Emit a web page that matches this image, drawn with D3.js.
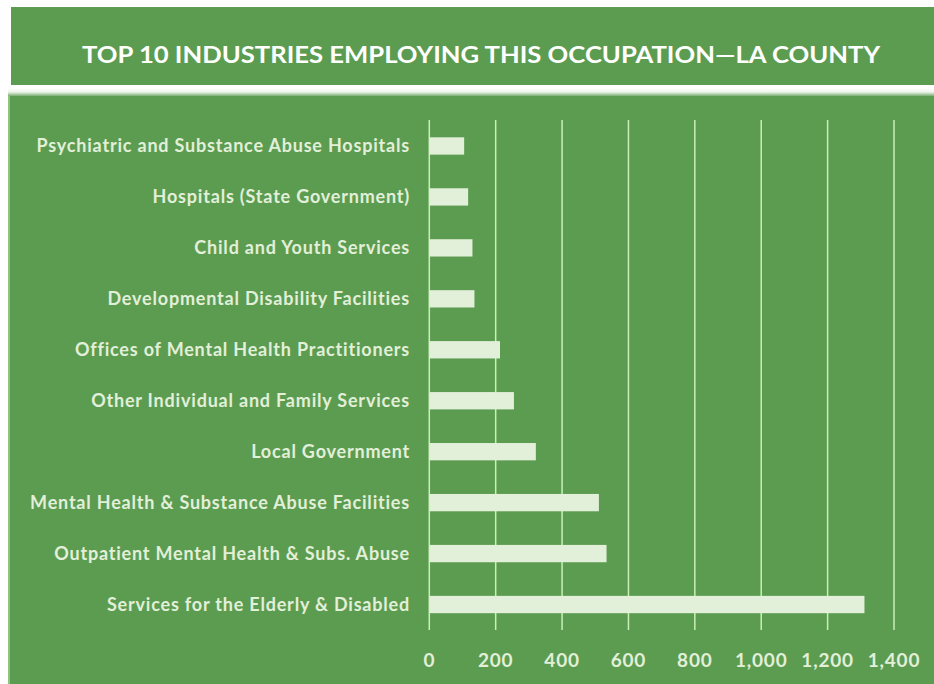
<!DOCTYPE html>
<html>
<head>
<meta charset="utf-8">
<script src="https://cdn.jsdelivr.net/npm/d3@7"></script>
<style>
  body { margin: 0; background: #ffffff; }
  svg { display: block; }
</style>
</head>
<body>
<div id="chart"></div>
<script>
const industries = [
  'Psychiatric and Substance Abuse Hospitals',
  'Hospitals (State Government)',
  'Child and Youth Services',
  'Developmental Disability Facilities',
  'Offices of Mental Health Practitioners',
  'Other Individual and Family Services',
  'Local Government',
  'Mental Health & Substance Abuse Facilities',
  'Outpatient Mental Health & Subs. Abuse',
  'Services for the Elderly & Disabled'
];
const employment = [105, 117, 130, 136, 213, 255, 321, 511, 534, 1311];
const xTicks = [0, 200, 400, 600, 800, 1000, 1200, 1400];
const title = 'TOP 10 INDUSTRIES EMPLOYING THIS OCCUPATION\u2014LA COUNTY';

const width = 934, height = 684;
const green = '#5c9c51';
const light = '#e2efd9';

const svg = d3.select('#chart').append('svg')
  .attr('width', width)
  .attr('height', height);

const defs = svg.append('defs');
const grad = defs.append('linearGradient')
  .attr('id', 'strip')
  .attr('x1', 0).attr('y1', 0).attr('x2', 0).attr('y2', 1);
grad.append('stop').attr('offset', '0%').attr('stop-color', '#ffffff');
grad.append('stop').attr('offset', '45%').attr('stop-color', '#eef5ea');
grad.append('stop').attr('offset', '100%').attr('stop-color', green);

// title banner
svg.append('rect')
  .attr('x', 11).attr('y', 7)
  .attr('width', width - 11).attr('height', 78)
  .attr('fill', green);

svg.append('text')
  .attr('x', 481).attr('y', 63)
  .attr('text-anchor', 'middle')
  .attr('fill', '#ffffff')
  .attr('font-family', 'Lato, "Open Sans", sans-serif')
  .attr('font-weight', 'bold')
  .attr('font-size', 23)
  .attr('textLength', 798)
  .attr('lengthAdjust', 'spacingAndGlyphs')
  .text(title);

// chart panel
svg.append('rect')
  .attr('x', 8).attr('y', 88)
  .attr('width', width - 8).attr('height', 9)
  .attr('fill', 'url(#strip)');

svg.append('rect')
  .attr('x', 8).attr('y', 96)
  .attr('width', width - 8).attr('height', height - 96)
  .attr('fill', green);

svg.append('line')
  .attr('x1', 9).attr('x2', 9)
  .attr('y1', 96).attr('y2', height)
  .attr('stroke', '#8cc47e')
  .attr('stroke-width', 2);

const x = d3.scaleLinear()
  .domain([0, 1400])
  .range([429.3, 894]);

const y = d3.scaleBand()
  .domain(industries)
  .range([120.5, 630])
  .paddingInner(0.66)
  .paddingOuter(0.33);

const g = svg.append('g');

// gridlines
g.selectAll('.grid')
  .data(xTicks)
  .enter()
  .append('line')
  .attr('class', 'grid')
  .attr('x1', d => x(d)).attr('x2', d => x(d))
  .attr('y1', 120).attr('y2', 630)
  .attr('stroke', '#c9efb6')
  .attr('stroke-width', 1.5);

// bars
g.selectAll('.bar')
  .data(industries)
  .enter()
  .append('rect')
  .attr('class', 'bar')
  .attr('x', x(0))
  .attr('y', d => y(d))
  .attr('width', (d, i) => x(employment[i]) - x(0))
  .attr('height', y.bandwidth())
  .attr('fill', light);

// category labels
g.selectAll('.cat')
  .data(industries)
  .enter()
  .append('text')
  .attr('class', 'cat')
  .attr('x', 410)
  .attr('y', d => y(d) + y.bandwidth() / 2)
  .attr('dy', '0.35em')
  .attr('text-anchor', 'end')
  .attr('fill', light)
  .attr('font-family', 'Lato, "Open Sans", sans-serif')
  .attr('font-weight', 'bold')
  .attr('font-size', 18)
  .attr('letter-spacing', 0.8)
  .text(d => d);

// x tick labels
g.selectAll('.tick-label')
  .data(xTicks)
  .enter()
  .append('text')
  .attr('class', 'tick-label')
  .attr('x', d => x(d))
  .attr('y', 660)
  .attr('dy', '0.35em')
  .attr('text-anchor', 'middle')
  .attr('fill', light)
  .attr('font-family', 'Lato, "Open Sans", sans-serif')
  .attr('font-weight', 'bold')
  .attr('font-size', 19)
  .attr('letter-spacing', 0.8)
  .text(d => d3.format(',')(d));
</script>
</body>
</html>
